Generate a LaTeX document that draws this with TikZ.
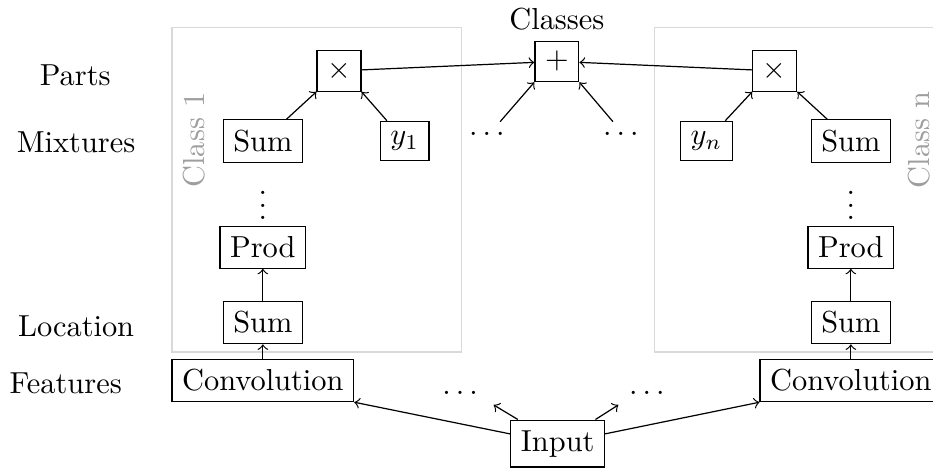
\documentclass[tikz,border=0pt]{standalone}
\usepackage{amsfonts, amsmath, amssymb}
\usepackage{tikz}
\usetikzlibrary{positioning}

\begin{document}
\begin{tikzpicture}[box/.style={draw}, classbox/.style={draw=black!15}, classtext/.style={text=black!38, rotate=90}]
            \useasboundingbox (0,0) rectangle (10.79,-5.41);
            \clip (0,0) rectangle (10.79,-5.41);
            % Etiquetas de las capas
            \node (parts) at (0.87,-0.87) {Parts};
            \node (mixtures) at (0.88,-1.64) {Mixtures};
            \node (location) at (0.88,-3.77) {Location};
            \node (features) at (0.76,-4.43) {Features};

            % Clase 1
            \draw[classbox] (1.99,-0.32) rectangle (5.34,-4.07);
            \node[classtext] (cname1) at (2.25,-1.62) {Class 1};
            \node[box] (t1) at (3.92,-0.82) {$\times$};
            \node[box] (s1) at (3.04,-1.63) {Sum};
            \node[box] (y1) at (4.68,-1.63) {$y_1$};
            \node[inner sep=0pt] (vd1) at (3.04,-2.27) {$\vdots$};
            \node[box] (p1) at (3.04,-2.86) {Prod};
            \node[box] (l1) at (3.04,-3.73) {Sum};
            \node[box] (c1) at (3.04,-4.40) {Convolution};
            \draw[->] (s1) -- (t1.south west);
            \draw[->] (y1) -- (t1.south east);
            \draw[->] (l1) -- (p1);
            \draw[->] (c1) -- (l1);

            % Clase n
            \draw[classbox] (7.57,-0.32) rectangle (10.89,-4.07);
            \node[classtext] (cname2) at (10.63,-1.62) {Class n};
            \node[box] (t2) at (8.96,-0.82) {$\times$};
            \node[box] (yn) at (8.17,-1.63) {$y_n$};
            \node[box] (s2) at (9.84,-1.63) {Sum};
            \node[inner sep=0pt] (vd2) at (9.84,-2.27) {$\vdots$};
            \node[box] (p2) at (9.84,-2.86) {Prod};
            \node[box] (l2) at (9.84,-3.73) {Sum};
            \node[box] (c2) at (9.84,-4.40) {Convolution};
            \draw[->] (yn) -- (t2.south west);
            \draw[->] (s2) -- (t2.south east);
            \draw[->] (l2) -- (p2);
            \draw[->] (c2) -- (l2);

            % Suma de clases
            \node[box] (plus) at (6.44,-0.71) {$+$};
            \node (classes) [above=0pt of plus] {Classes};
            \node (dm1) at (5.66,-1.55) {$\dots$};
            \node (dm2) at (7.21,-1.55) {$\dots$};
            \draw[->] (t1) -- (plus);
            \draw[->] (t2) -- (plus);
            \draw[->] (dm1) -- (plus.south west);
            \draw[->] (dm2) -- (plus.south east);

            % Entrada
            \node[box] (in) at (6.45,-5.13) {Input};
            \node (db1) at (5.35,-4.54) {$\dots$};
            \node (db2) at (7.51,-4.54) {$\dots$};
            \draw[->] (in) -- (c1.south east);
            \draw[->] (in) -- (c2.south west);
            \draw[->] (in) -- (db1.south east);
            \draw[->] (in) -- (db2.south west);
        \end{tikzpicture}
\end{document}
